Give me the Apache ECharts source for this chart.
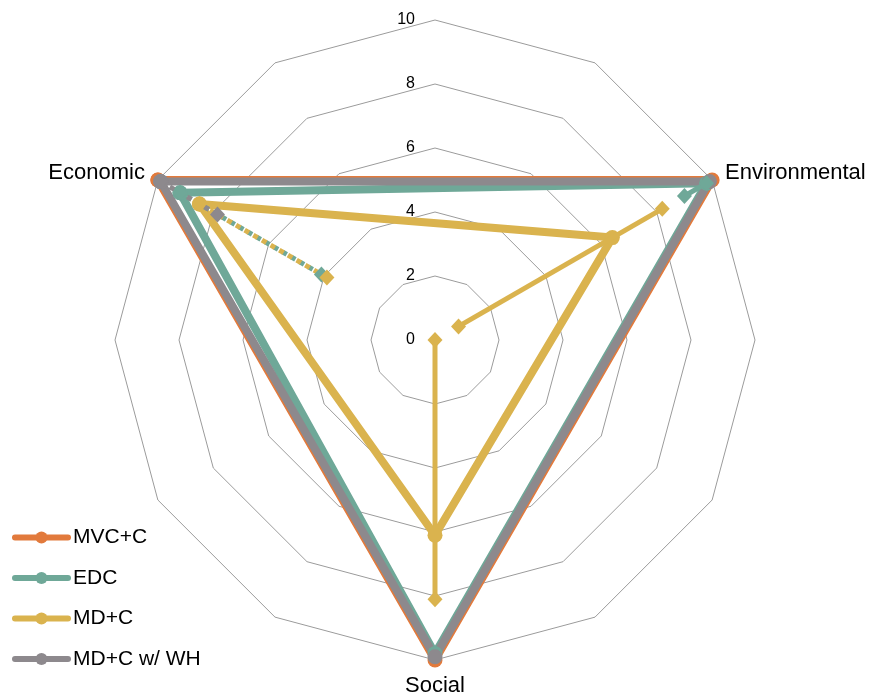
<!DOCTYPE html>
<html>
<head>
<meta charset="utf-8">
<script src="https://cdn.jsdelivr.net/npm/echarts@6/dist/echarts.min.js"></script>
<style>
  html, body { margin: 0; padding: 0; background: #ffffff; }
  #chart { width: 876px; height: 700px; }
</style>
</head>
<body>
<div id="chart"></div>
<script>
// Twelve spokes (counter-clockwise from the top); the three dimensions sit on every fourth one.
const spokes = ['', '', 'Economic', '', '', '', 'Social', '', '', '', 'Environmental', ''];
const dimensions = ['Economic', 'Environmental', 'Social'];
const scoreTicks = [0, 2, 4, 6, 8, 10];

const scenarioNames = ['MVC+C', 'EDC', 'MD+C', 'MD+C w/ WH'];

// Central score of each scenario, in the order of `dimensions`
const mvccScores = [10, 10, 10];
const edcScores = [9.2, 9.8, 9.8];
const mdcScores = [8.5, 6.4, 6.1];
const mdcWhScores = [9.9, 9.9, 9.9];

// Score range [low, high] of each scenario per dimension (null: no range drawn)
const mvccRanges = [null, null, null];
const edcRanges = [[4.1, 9.2], [9.0, 9.8], null];
const mdcRanges = [[3.9, 8.5], [0.85, 8.2], [0, 8.1]];
const mdcWhRanges = [[7.85, 9.9], null, null];

const palette = ['#e27a3c', '#6fa898', '#dab34e', '#8d898d'];
const FONT = 'Liberation Sans, Arial, Helvetica, sans-serif';

const CX = 435, CY = 340;
const R_TOP = scoreTicks[scoreTicks.length - 1];
const PX_PER_UNIT = 32;
// The polar system reaches one unit past the top score so thick strokes at the rim are not cut off.
const R_POLAR = R_TOP + 1;

const spokeOf = dim => spokes.indexOf(dim);

function triangleSeries(name, scores, color) {
  const pts = dimensions.map((d, i) => [scores[i], spokeOf(d)]);
  pts.push(pts[0]);
  return {
    name, type: 'line', coordinateSystem: 'polar', data: pts,
    symbol: 'circle', symbolSize: 15, clip: false, z: 2,
    lineStyle: { width: 8, color, cap: 'round', join: 'round' },
    itemStyle: { color }
  };
}

function rangeSeries(name, ranges, color) {
  const out = [];
  ranges.forEach((r, i) => {
    if (!r) return;
    const dim = dimensions[i];
    out.push({
      name, type: 'line', coordinateSystem: 'polar',
      data: [[r[0], spokeOf(dim)], [r[1], spokeOf(dim)]],
      symbol: 'diamond', symbolSize: [15, 16], clip: false, z: 3,
      lineStyle: { width: 5, color, type: dim === 'Economic' ? 'dotted' : 'solid' },
      itemStyle: { color }
    });
  });
  return out;
}

const allScores = [mvccScores, edcScores, mdcScores, mdcWhScores];
const allRanges = [mvccRanges, edcRanges, mdcRanges, mdcWhRanges];

const series = [];
scenarioNames.forEach((n, k) => series.push(triangleSeries(n, allScores[k], palette[k])));
// EDC ranges first so that the dotted MD+C range stays visible on top
[1, 2, 3, 0].forEach(k => series.push(...rangeSeries(scenarioNames[k], allRanges[k], palette[k])));

const chart = echarts.init(document.getElementById('chart'), null, { renderer: 'canvas' });
chart.setOption({
  animation: false,
  color: palette,
  radar: {
    center: [CX, CY],
    radius: R_TOP * PX_PER_UNIT,
    startAngle: 90,
    splitNumber: scoreTicks.length - 1,
    shape: 'polygon',
    nameGap: 15,
    axisName: { color: '#000', fontSize: 22, fontFamily: FONT },
    indicator: spokes.map(s => ({ name: s, min: scoreTicks[0], max: R_TOP })),
    axisLine: { show: false },
    axisTick: { show: false },
    axisLabel: { show: false },
    splitArea: { show: false },
    splitLine: { lineStyle: { color: '#9b9b9b', width: 1 } }
  },
  polar: { center: [CX, CY], radius: R_POLAR * PX_PER_UNIT },
  angleAxis: {
    type: 'value', min: 0, max: spokes.length, interval: 1,
    startAngle: 90, clockwise: false,
    axisLine: { show: false }, axisTick: { show: false },
    axisLabel: { show: false }, splitLine: { show: false }
  },
  radiusAxis: {
    type: 'value',
    min: scoreTicks[0], max: R_POLAR,
    interval: scoreTicks[1] - scoreTicks[0],
    axisLine: { show: false }, axisTick: { show: false }, splitLine: { show: false },
    axisLabel: {
      show: true, showMaxLabel: false, margin: 20,
      color: '#000', fontSize: 16, fontFamily: FONT,
      formatter: v => (scoreTicks.indexOf(v) >= 0 ? String(v) : '')
    },
    z: 5
  },
  legend: {
    data: scenarioNames,
    orient: 'vertical',
    left: 7, top: 522,
    itemWidth: 53, itemHeight: 15, itemGap: 19.5,
    lineStyle: { width: 6 },
    textStyle: { color: '#000', fontSize: 21, fontFamily: FONT }
  },
  series
});
</script>
</body>
</html>
